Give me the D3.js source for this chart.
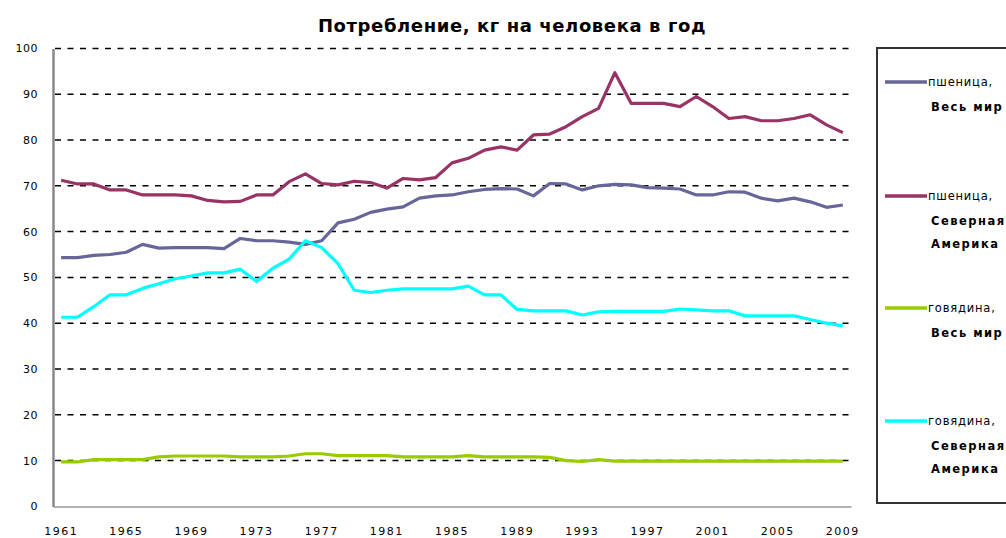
<!DOCTYPE html>
<html>
<head>
<meta charset="utf-8">
<script src="https://cdn.jsdelivr.net/npm/d3@7"></script>
<style>
  body { margin: 0; background: #fff; }
  text { font-family: "DejaVu Sans", sans-serif; }
</style>
</head>
<body>
<div id="myChart"></div>
<script>
// years 1961..2009
var years = d3.range(1961, 2010);
var tickYears = [1961, 1965, 1969, 1973, 1977, 1981, 1985, 1989, 1993, 1997, 2001, 2005, 2009];
var yTicks = [0, 10, 20, 30, 40, 50, 60, 70, 80, 90, 100];

var wheatWorld = [54.3, 54.3, 54.8, 55, 55.5, 57.2, 56.4, 56.5, 56.5, 56.5, 56.3, 58.5, 58, 58, 57.7, 57.2, 58,
  61.9, 62.7, 64.2, 64.9, 65.4, 67.3, 67.8, 68, 68.7, 69.2, 69.4, 69.3, 67.8, 70.5, 70.4, 69.1, 70, 70.3, 70.2,
  69.6, 69.5, 69.3, 68, 68, 68.7, 68.6, 67.3, 66.7, 67.3, 66.5, 65.3, 65.8];
var wheatNA = [71.2, 70.4, 70.4, 69.1, 69.1, 68, 68, 68, 67.8, 66.8, 66.5, 66.6, 68, 68, 70.9, 72.6, 70.5,
  70.2, 71, 70.7, 69.5, 71.6, 71.3, 71.8, 75, 76, 77.8, 78.5, 77.8, 81.1, 81.3, 82.9, 85.1, 86.9, 94.7, 88,
  88, 88, 87.3, 89.5, 87.3, 84.7, 85.1, 84.2, 84.2, 84.7, 85.5, 83.3, 81.6];
var beefWorld = [9.7, 9.7, 10.2, 10.2, 10.2, 10.2, 10.8, 11, 11, 11, 11, 10.8, 10.8, 10.8, 11, 11.5, 11.5,
  11.1, 11.1, 11.1, 11.1, 10.8, 10.8, 10.8, 10.8, 11.1, 10.8, 10.8, 10.8, 10.8, 10.7, 10, 9.8, 10.2, 9.9, 9.9,
  9.9, 9.9, 9.9, 9.9, 9.9, 9.9, 9.9, 9.9, 9.9, 9.9, 9.9, 9.9, 9.9];
var beefNA = [41.3, 41.3, 43.6, 46.2, 46.2, 47.6, 48.6, 49.7, 50.3, 51, 51, 51.8, 49.1, 52, 54, 58, 56.5,
  53, 47.2, 46.7, 47.2, 47.5, 47.5, 47.5, 47.5, 48.1, 46.2, 46.2, 43, 42.7, 42.7, 42.7, 41.8, 42.5, 42.6, 42.6,
  42.6, 42.6, 43.1, 42.9, 42.7, 42.7, 41.6, 41.6, 41.6, 41.6, 40.8, 40, 39.4];

var seriesNames = [
  ["пшеница,", "Весь мир"],
  ["пшеница,", "Северная", "Америка"],
  ["говядина,", "Весь мир"],
  ["говядина,", "Северная", "Америка"]
];
var seriesData = [wheatWorld, wheatNA, beefWorld, beefNA];
var colors = ["#666699", "#993366", "#99cc00", "#00ffff"];

function plotChart() {
  var width = 1006, height = 538;
  var svg = d3.select('#myChart')
    .append('svg')
    .attr('width', width)
    .attr('height', height);

  var x = d3.scaleBand().domain(years).range([53, 851]);
  var y = d3.scaleLinear().domain([0, 100]).range([506.4, 48.4]);

  // title
  svg.append("text")
    .attr("x", 512)
    .attr("y", 32)
    .attr("text-anchor", "middle")
    .style("font-size", "18px")
    .style("font-weight", "bold")
    .style("letter-spacing", "0.6px")
    .text("Потребление, кг на человека в год");

  // gridlines
  svg.append("g")
    .selectAll("line")
    .data(yTicks.filter(function(d) { return d > 0; }))
    .enter().append("line")
    .attr("x1", 55)
    .attr("x2", 851)
    .attr("y1", function(d) { return y(d); })
    .attr("y2", function(d) { return y(d); })
    .attr("stroke", "#000")
    .attr("stroke-width", 1.5)
    .attr("stroke-dasharray", "6,6.5");

  // axes
  var yAxis = svg.append("g")
    .attr("transform", "translate(53,0)")
    .call(d3.axisLeft(y).tickValues(yTicks).tickSize(0).tickPadding(15));
  yAxis.select(".domain").attr("stroke", "#888").attr("stroke-width", 2.5);
  yAxis.selectAll("text")
    .style("font-family", "DejaVu Sans")
    .style("font-size", "11px")
    .style("letter-spacing", "0.5px")
    .attr("fill", "#000");

  var xAxis = svg.append("g")
    .attr("transform", "translate(0,506.4)")
    .call(d3.axisBottom(x).tickValues(tickYears).tickSize(0).tickPadding(21));
  xAxis.select(".domain").attr("stroke", "#999").attr("stroke-width", 1.5);
  xAxis.selectAll("text")
    .style("font-family", "DejaVu Sans")
    .style("font-size", "11px")
    .style("letter-spacing", "1.5px")
    .attr("fill", "#000");

  // lines
  var line = d3.line()
    .x(function(d, i) { return x(years[i]) + x.bandwidth() / 2; })
    .y(function(d) { return y(d); });

  svg.append("g")
    .selectAll("path")
    .data(seriesData)
    .enter().append("path")
    .attr("d", line)
    .attr("fill", "none")
    .attr("stroke", function(d, i) { return colors[i]; })
    .attr("stroke-width", 3.2)
    .attr("stroke-linejoin", "round");

  // legend
  var legend = svg.append("g");
  legend.append("rect")
    .attr("x", 877)
    .attr("y", 48)
    .attr("width", 200)
    .attr("height", 455)
    .attr("fill", "none")
    .attr("stroke", "#333")
    .attr("stroke-width", 2);

  var legendY = [82, 196, 308, 421];
  var items = legend.selectAll(".item")
    .data(seriesNames)
    .enter().append("g")
    .attr("class", "item")
    .attr("transform", function(d, i) { return "translate(0," + legendY[i] + ")"; });

  items.append("line")
    .attr("x1", 885)
    .attr("x2", 927)
    .attr("stroke", function(d, i) { return colors[i]; })
    .attr("stroke-width", 3.5);

  items.append("text")
    .attr("x", 928)
    .attr("y", 4)
    .style("font-size", "11.5px")
    .style("letter-spacing", "0.8px")
    .text(function(d) { return d[0]; });

  items.each(function(d) {
    var g = d3.select(this);
    d.slice(1).forEach(function(t, k) {
      g.append("text")
        .attr("x", 931)
        .attr("y", 29 + k * 23)
        .style("font-size", "11.5px")
        .style("font-weight", "bold")
        .style("letter-spacing", "1.5px")
        .text(t);
    });
  });
}

plotChart();
</script>
</body>
</html>
